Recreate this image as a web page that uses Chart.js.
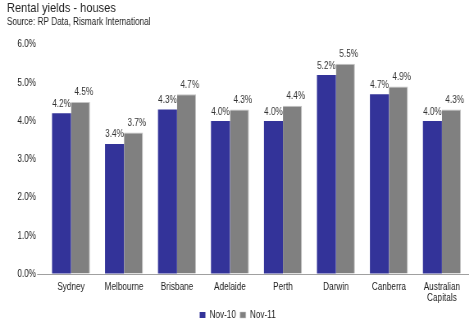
<!DOCTYPE html>
<html>
<head>
<meta charset="utf-8">
<script src="https://cdn.jsdelivr.net/npm/chart.js@4/dist/chart.umd.min.js"></script>
<style>
    html, body { margin: 0; padding: 0; background: #fff; overflow: hidden; }
    /* the source image is squeezed sideways, so draw wide and squeeze */
    #wrap { width: 573px; height: 333px; position: relative; transform: scaleX(0.82); transform-origin: 0 0; }
</style>
</head>
<body>
<div id="wrap"><canvas id="chart"></canvas></div>
<script>
const cities = ['Sydney', 'Melbourne', 'Brisbane', 'Adelaide', 'Perth', 'Darwin', 'Canberra', ['Australian', 'Capitals']];
const nov10 = [4.2, 3.4, 4.3, 4.0, 4.0, 5.2, 4.7, 4.0];
const nov11 = [4.5, 3.7, 4.7, 4.3, 4.4, 5.5, 4.9, 4.3];
const seriesNames = ['Nov-10', 'Nov-11'];
const yTicks = [0, 1, 2, 3, 4, 5, 6];

const font = '"Liberation Sans", Arial, sans-serif';
Chart.defaults.font.family = font;
Chart.defaults.color = '#222';

// values above each bar, second series nudged right like the original
const barLabels = {
    id: 'barLabels',
    afterDatasetsDraw(chart) {
        const ctx = chart.ctx;
        ctx.save();
        ctx.font = '10px ' + font;
        ctx.fillStyle = '#333';
        ctx.textAlign = 'center';
        ctx.textBaseline = 'alphabetic';
        chart.data.datasets.forEach((ds, i) => {
            const dx = i === 1 ? 4 : 0;
            chart.getDatasetMeta(i).data.forEach((bar, j) => {
                ctx.fillText(ds.data[j].toFixed(1) + '%', bar.x + dx, bar.y - 6.5);
            });
        });
        ctx.restore();
    }
};

new Chart(document.getElementById('chart'), {
    type: 'bar',
    data: {
        labels: cities,
        datasets: [
            { label: seriesNames[0], data: nov10, backgroundColor: '#333399', borderWidth: 0 },
            { label: seriesNames[1], data: nov11, backgroundColor: '#808080', borderColor: '#c4c4c4', borderWidth: { top: 1, right: 1, left: 0, bottom: 0 } }
        ]
    },
    options: {
        responsive: true,
        maintainAspectRatio: false,
        animation: false,
        layout: { padding: { left: 8.5, right: 1.8, top: 0, bottom: 3 } },
        categoryPercentage: 0.717,
        barPercentage: 1,
        plugins: {
            title: {
                display: true, text: 'Rental yields - houses', align: 'start',
                color: '#222', font: { size: 13.5, weight: 'normal', lineHeight: 1 }, padding: { top: 2, bottom: 0 }
            },
            subtitle: {
                display: true, text: 'Source: RP Data, Rismark International', align: 'start',
                color: '#222', font: { size: 10, lineHeight: 1.2 }, padding: { top: 1, bottom: 16 }
            },
            legend: {
                position: 'bottom',
                labels: { boxWidth: 7, boxHeight: 6, padding: 5, font: { size: 10 }, color: '#222' }
            },
            tooltip: { enabled: false }
        },
        scales: {
            x: {
                grid: { display: false, drawTicks: false },
                border: { color: '#a0a0a0', width: 1 },
                ticks: { font: { size: 10, lineHeight: 1.15 }, color: '#222', maxRotation: 0, padding: 7 },
                afterFit: axis => { axis.height -= 6; }
            },
            y: {
                min: 0, max: 6,
                afterBuildTicks: axis => { axis.ticks = yTicks.map(v => ({ value: v })); },
                afterFit: axis => { axis.width = 45.8; },
                grid: {
                    drawOnChartArea: false, tickLength: 9,
                    color: c => c.tick && c.tick.value === 0 ? '#a0a0a0' : 'rgba(0,0,0,0)'
                },
                border: { display: false },
                ticks: { font: { size: 10 }, color: '#222', padding: 1.3, callback: v => v.toFixed(1) + '%' }
            }
        }
    },
    plugins: [barLabels]
});
</script>
</body>
</html>
